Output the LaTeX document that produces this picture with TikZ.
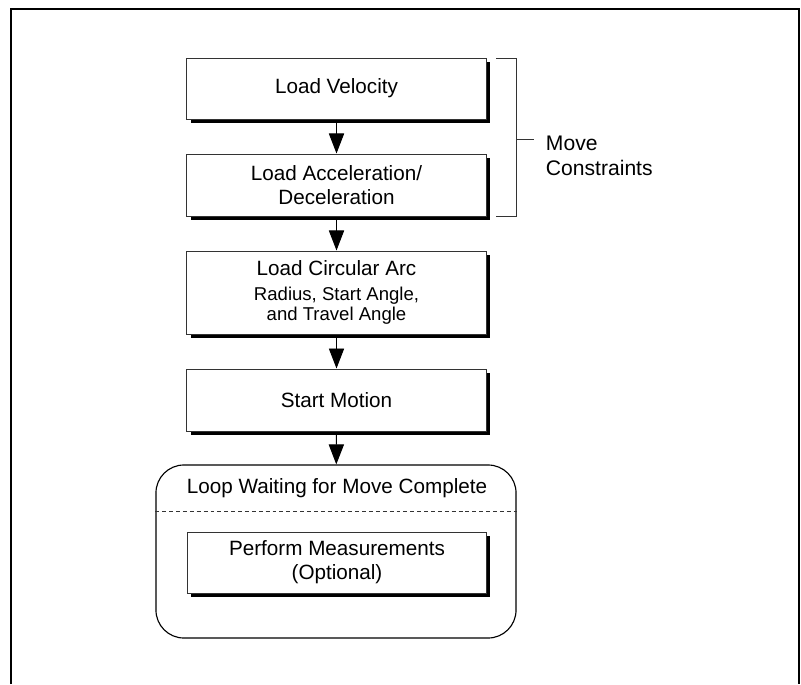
\documentclass[tikz,border=0pt]{standalone}
\usepackage{fontspec}
\setmainfont{Liberation Sans}
\usepackage{xcolor}
\usepackage{tikz}
\usetikzlibrary{arrows, arrows.meta, shadows}
\pgfdeclarelayer{bg}
\pgfsetlayers{bg,main}
\definecolor{edgegray}{HTML}{333333}
\newcommand{\subtextfont}{\fontsize{13.2}{15.6}\selectfont}
\tikzset{
	stepbox/.style={rectangle, draw=edgegray, line width=0.7pt, fill=white, minimum width=7.475cm, align=center, font=\fontsize{14.7}{17}\selectfont,
		drop shadow={shadow xshift=0.09cm, shadow yshift=-0.09cm, fill=black, opacity=1}},
	flowarrow/.style={-{Triangle[width=0.38cm, length=0.5cm]}, line width=0.7pt, black},
}

\begin{document}
\begin{tikzpicture}[x=0.025cm, y=-0.025cm]
			\useasboundingbox (0,0) rectangle (801,684);
			\draw[line width=1.5pt] (11,684) -- (11,9) -- (799,9) -- (799,684);%frame
			\node[stepbox, minimum height=1.525cm] (vel) at (336.5,88.5){Load Velocity};%
			\node[stepbox, minimum height=1.55cm] (acc) at (336.5,185){Load Acceleration/\\Deceleration};%
			\node[stepbox, minimum height=2.075cm] (arc) at (336.5,292.5){Load Circular Arc\\[1pt]{\subtextfont Radius, Start Angle,}\\[-3pt]{\subtextfont and Travel Angle}};%
			\node[stepbox, minimum height=1.55cm] (start) at (336.5,400){Start Motion};%
			\node[rectangle, rounded corners=0.7cm, draw=black, line width=0.8pt, minimum width=9cm, minimum height=4.325cm] (loop) at (336,551.5){};%
			\node[font=\fontsize{14.7}{17}\selectfont] (looplabel) at (337,488){Loop Waiting for Move Complete};%
			\node[stepbox, minimum height=1.525cm] (meas) at (337,562.5){Perform Measurements\\(Optional)};%
			\draw[dashed, dash pattern=on 2.8pt off 2.1pt, edgegray, line width=0.6pt] (loop.west |- 0,511) -- (loop.east |- 0,511);
			% bracket
			\coordinate (brk) at (516,139);
			\draw[edgegray, line width=0.7pt] (496,58) -- (516,58) -- (516,216) -- (496,216);
			\draw[edgegray, line width=0.7pt] (brk) -- ++(18,0);
			\node[anchor=west, align=left, font=\fontsize{15}{17.8}\selectfont] (movec) at (541,155.5){Move\\Constraints};%
			\begin{pgfonlayer}{bg}
				\draw[flowarrow] (vel) -- (acc);
				\draw[flowarrow] (acc) -- (arc);
				\draw[flowarrow] (arc) -- (start);
				\draw[flowarrow] (start) -- (loop);
			\end{pgfonlayer}

		\end{tikzpicture}
\end{document}
